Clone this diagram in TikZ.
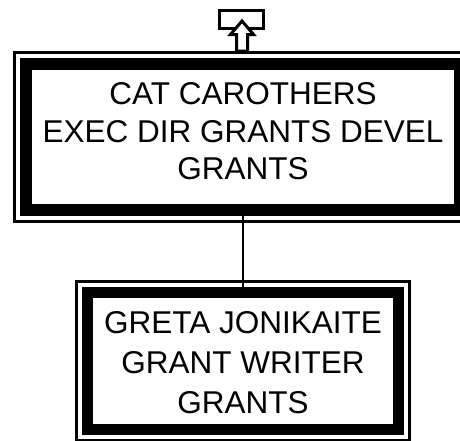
\documentclass[tikz,border=0pt]{standalone}
\usepackage{fontspec}
\setmainfont{Liberation Sans}
\usetikzlibrary{calc}

\begin{document}
\begin{tikzpicture}[x=1pt,y=-1pt,
  posbox/.style={draw,align=center,inner sep=0pt},
  frame/.style={line width=3.5pt}]
\useasboundingbox (0,0) rectangle (460,440);
\clip (0,0) rectangle (460,440);

% position boxes
\node[posbox,line width=12pt,minimum width=434pt,minimum height=146pt,
  font=\fontsize{31.5}{37.5}\selectfont] (exec) at (243,137)
  {CAT CAROTHERS\\EXEC DIR GRANTS DEVEL\\GRANTS\rule[-11.2pt]{0pt}{0pt}};
\node[posbox,line width=11pt,minimum width=311pt,minimum height=137pt,
  font=\fontsize{31.5}{40}\selectfont] (writer) at (243,361)
  {\rule{0pt}{24.6pt}GRETA JONIKAITE\\GRANT WRITER\\GRANTS};

\foreach \n in {exec,writer}
  \draw[frame] ($(\n.north west)+(-5.5,-5.5)$) rectangle ($(\n.south east)+(5.5,5.5)$);

\draw[line width=2pt] (exec.south) -- (writer.north);

% off page link
\node[draw,line width=3pt,minimum width=44pt,minimum height=18pt,inner sep=0pt] (offpage) at (241.5,19.5) {};
\draw[fill=white,line width=3pt] (236.5,51) -- (236.5,34.5) -- (230.5,34.5) -- (242,21)
  -- (253.5,34.5) -- (247.5,34.5) -- (247.5,51) -- cycle;

\end{tikzpicture}
\end{document}
